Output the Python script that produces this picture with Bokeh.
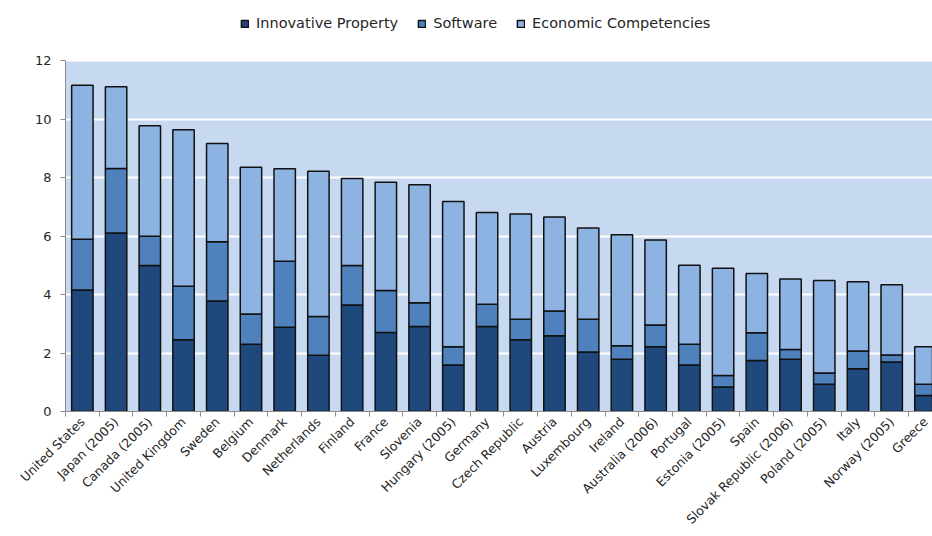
import math
from bokeh.plotting import figure
from bokeh.models import Range1d, FixedTicker, Legend, LegendItem, ColumnDataSource, BoxAnnotation
from bokeh.embed import file_html
from bokeh.resources import INLINE

categories = ["United States", "Japan (2005)", "Canada (2005)", "United Kingdom", "Sweden",
              "Belgium", "Denmark", "Netherlands", "Finland", "France", "Slovenia",
              "Hungary (2005)", "Germany", "Czech Republic", "Austria", "Luxembourg",
              "Ireland", "Australia (2006)", "Portugal", "Estonia (2005)", "Spain",
              "Slovak Republic (2006)", "Poland (2005)", "Italy", "Norway (2005)", "Greece"]

innovative_property = [4.15, 6.10, 4.99, 2.45, 3.78, 2.30, 2.88, 1.92, 3.64, 2.70, 2.91,
                       1.59, 2.91, 2.45, 2.59, 2.03, 1.79, 2.21, 1.59, 0.84, 1.74,
                       1.79, 0.93, 1.46, 1.69, 0.55]
software = [1.74, 2.21, 1.00, 1.83, 2.02, 1.03, 2.26, 1.33, 1.35, 1.44, 0.81,
            0.62, 0.76, 0.70, 0.85, 1.12, 0.46, 0.75, 0.71, 0.39, 0.95,
            0.33, 0.39, 0.61, 0.24, 0.38]
economic_competencies = [5.26, 2.79, 3.78, 5.35, 3.36, 5.02, 3.16, 4.96, 2.98, 3.70, 4.03,
                         4.97, 3.13, 3.60, 3.21, 3.12, 3.79, 2.90, 2.70, 3.67, 2.03,
                         2.41, 3.16, 2.37, 2.40, 1.28]

series_names = ["Innovative Property", "Software", "Economic Competencies"]
y_ticks = [0, 2, 4, 6, 8, 10, 12]
y_max = 12

colors = ["#1f497d", "#4f81bd", "#8db3e2"]
FONT = "DejaVu Sans"
TXT = "#262626"

n = len(categories)
centers = [i + 0.5 for i in range(n)]
source = ColumnDataSource(dict(x=centers, ip=innovative_property, sw=software, ec=economic_competencies))

# frame spans the whole top of the figure so the legend can sit above the value area
p = figure(width=932, height=536, output_backend="svg", toolbar_location=None,
           x_range=Range1d(0, 25.71), y_range=Range1d(0, y_max * 411 / 351),
           min_border_left=65, min_border_right=0, min_border_top=0, min_border_bottom=125)

p.background_fill_color = "white"
p.border_fill_color = "white"
p.outline_line_color = None
p.add_layout(BoxAnnotation(bottom=0, top=y_max, fill_color="#c6d9f1", fill_alpha=1,
                           line_color=None, level="image"))

renderers = p.vbar_stack(["ip", "sw", "ec"], x="x", width=0.635, source=source,
                         fill_color=colors, line_color="#111111", line_width=1.5)

p.xgrid.visible = False
p.ygrid.grid_line_color = "white"
p.ygrid.grid_line_width = 2
p.ygrid.ticker = FixedTicker(ticks=y_ticks)

p.yaxis.ticker = FixedTicker(ticks=y_ticks)
p.yaxis.bounds = (0, y_max)
p.yaxis.axis_line_color = "#8c8c8c"
p.yaxis.major_tick_line_color = "#8c8c8c"
p.yaxis.major_tick_out = 5
p.yaxis.major_tick_in = 0
p.yaxis.minor_tick_line_color = None
p.yaxis.major_label_text_font = FONT
p.yaxis.major_label_text_font_size = "13px"
p.yaxis.major_label_text_color = TXT
p.yaxis.major_label_standoff = 9

p.xaxis.ticker = FixedTicker(ticks=centers, minor_ticks=list(range(0, n)))
p.xaxis.major_label_overrides = {c: name for c, name in zip(centers, categories)}
p.xaxis.major_label_orientation = math.pi / 4
p.xaxis.major_tick_line_color = None
p.xaxis.minor_tick_line_color = "#8c8c8c"
p.xaxis.minor_tick_out = 5
p.xaxis.minor_tick_in = 0
p.xaxis.axis_line_color = "#8c8c8c"
p.xaxis.major_label_text_font = FONT
p.xaxis.major_label_text_font_size = "12.5px"
p.xaxis.major_label_text_color = TXT
p.xaxis.major_label_standoff = 2

legend = Legend(items=[LegendItem(label=name, renderers=[r]) for name, r in zip(series_names, renderers)],
                orientation="horizontal", location=(175, 380),
                glyph_width=9, glyph_height=9, label_standoff=7, spacing=19,
                label_text_font=FONT, label_text_font_size="14.5px", label_text_color=TXT,
                border_line_color=None, background_fill_alpha=0, padding=4, margin=0)
p.add_layout(legend)

open("out.html", "w").write(file_html(p, INLINE))
